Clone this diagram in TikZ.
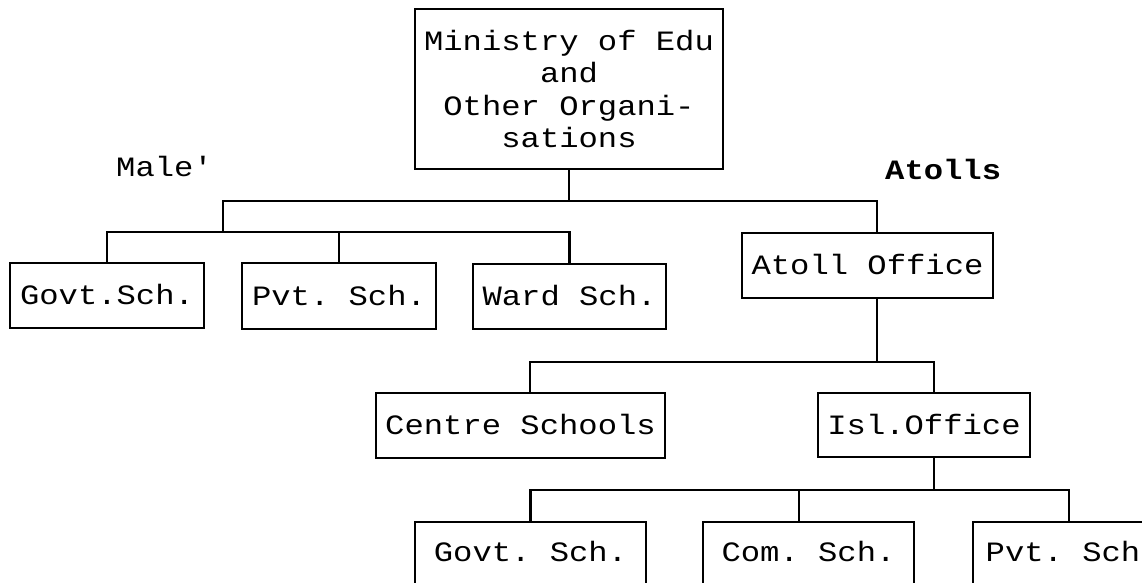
\documentclass[tikz,border=0pt]{standalone}
\usepackage{fontspec}
\setmonofont{Liberation Mono}[FakeStretch=1.15]
\newcommand\chartfont{\ttfamily\fontsize{28}{32.3}\selectfont}
\begin{document}
\begin{tikzpicture}[x=1pt,y=-1pt,
  lw/.style={line width=2.7pt},
  box/.style={draw, lw, inner sep=0pt, font=\chartfont},
  leaf/.style={box, text height=18.5pt, text depth=0pt},
  lowleaf/.style={box, text height=18.5pt, text depth=6pt},
  lbl/.style={anchor=base west, inner sep=0pt, font=\chartfont}]
\useasboundingbox (0,0) rectangle (1142,583);
\fill[white] (0,0) rectangle (1142,583);
\clip (0,0) rectangle (1142,583);

% head office
\node[box, align=center, minimum width=308pt, minimum height=160pt] (min) at (569,89)
  {Ministry of Edu\\and\\Other Organi-\\sations};

% region labels
\node[lbl] (male) at (116,176) {Male'};
\node[lbl, font=\chartfont\bfseries] (atolls) at (885,179) {Atolls};

% Male' schools
\node[leaf, minimum width=194pt, minimum height=65pt] (govt) at (107,295.5) {Govt.Sch.};
\node[leaf, minimum width=194pt, minimum height=66pt] (pvt)  at (339,296)   {Pvt. Sch.};
\node[leaf, minimum width=193pt, minimum height=65pt] (ward) at (569.5,296.5) {Ward Sch.};

% atoll branch
\node[leaf, minimum width=251pt, minimum height=65pt] (atoll)  at (867.5,265.5) {Atoll Office};
\node[leaf, minimum width=289pt, minimum height=65pt] (centre) at (520.5,425.5) {Centre Schools};
\node[leaf, minimum width=212pt, minimum height=64pt] (isl)    at (924,425)     {Isl.Office};

% island schools (boxes run past the lower and right edges)
\node[lowleaf, minimum width=231pt, minimum height=66pt] (govt2) at (530.5,555) {Govt. Sch.};
\node[lowleaf, minimum width=211pt, minimum height=66pt] (com)   at (808.5,555) {Com. Sch.};
\node[lowleaf, minimum width=180pt, minimum height=66pt] (pvt2)  at (1063,555)  {Pvt. Sch};

% junction points of the connector bars
\coordinate (j0) at (569,201);
\coordinate (ja) at (877,201);
\coordinate (km) at (223,232);
\coordinate (cL) at (530,362);
\coordinate (cR) at (934,362);
\coordinate (cM) at (877,362);
\coordinate (b0) at (934,490);
\coordinate (bM) at (799,490);
\coordinate (bR) at (1069,490);

% top level
\draw[lw] (min.south) -- (j0);
\draw[lw] (km) |- (ja) -- (ja |- atoll.north);

% Male' level
\draw[lw] (govt.north) |- (ward.north |- km) -- (ward.north);
\draw[lw] (pvt.north) -- (pvt.north |- km);

% atoll office level
\draw[lw] (atoll.south -| cM) -- (cM);
\draw[lw] (cL |- centre.north) |- (cR) -- (cR |- isl.north);

% island office level
\draw[lw] (isl.south -| b0) -- (b0);
\draw[lw] (govt2.north) |- (bR) -- (bR |- pvt2.north);
\draw[lw] (bM) -- (bM |- com.north);
\end{tikzpicture}
\end{document}
